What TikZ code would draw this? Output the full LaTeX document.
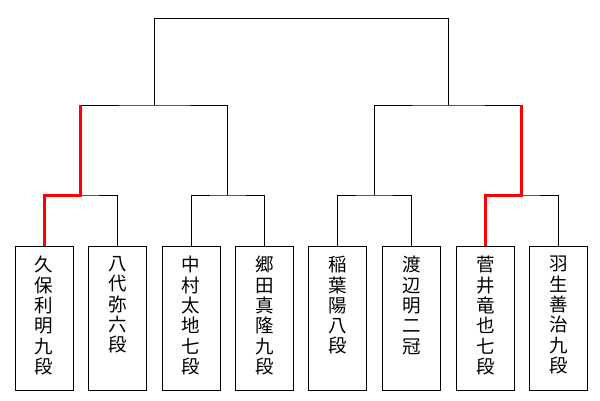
\documentclass[tikz,border=0pt]{standalone}
\usepackage{fontspec}
\newfontfamily\jpfont{Noto Sans CJK JP}
\usetikzlibrary{positioning,calc}

\tikzset{
  player/.style={draw,line width=0.8pt,minimum width=58pt,minimum height=144pt,
    inner sep=0pt,anchor=north,font=\jpfont\fontsize{18.5pt}{20.3pt}\selectfont},
  bracket/.style={line width=0.8pt},
  winner/.style={line width=3pt,red,line join=miter}
}
\newcommand{\tatebox}[1]{\parbox[t][124pt][t]{40pt}{\centering #1}}

\begin{document}
\begin{tikzpicture}[x=1pt,y=-1pt]
\useasboundingbox (0,0) rectangle (600,400);
% players
\node[player] (p1) at (44,246) {\tatebox{久\\保\\利\\明\\九\\段}};
\node[player,right=15pt of p1.north east,anchor=north west] (p2) {\tatebox{八\\代\\弥\\六\\段}};
\node[player,right=14.5pt of p2.north east,anchor=north west] (p3) {\tatebox{中\\村\\太\\地\\七\\段}};
\node[player,right=14.5pt of p3.north east,anchor=north west] (p4) {\tatebox{郷\\田\\真\\隆\\九\\段}};
\node[player,right=14.5pt of p4.north east,anchor=north west] (p5) {\tatebox{稲\\葉\\陽\\八\\段}};
\node[player,right=15pt of p5.north east,anchor=north west] (p6) {\tatebox{渡\\辺\\明\\二\\冠}};
\node[player,right=15pt of p6.north east,anchor=north west] (p7) {\tatebox{菅\\井\\竜\\也\\七\\段}};
\node[player,right=14.5pt of p7.north east,anchor=north west] (p8) {\tatebox{羽\\生\\善\\治\\九\\段}};
% joints
\coordinate (q1) at ($(p1.north)!.5!(p2.north)+(0,-51)$);
\coordinate (q2) at ($(p3.north)!.5!(p4.north)+(0,-51)$);
\coordinate (q3) at ($(p5.north)!.5!(p6.north)+(0,-51)$);
\coordinate (q4) at ($(p7.north)!.5!(p8.north)+(0,-51)$);
\coordinate (r1) at ($(q1)!.5!(q2)+(0,-90)$);
\coordinate (r2) at ($(q3)!.5!(q4)+(0,-90)$);
\coordinate (top) at ($(r1)!.5!(r2)+(0,-86.5)$);
% bracket lines
\draw[bracket] (p1.north) |- (q1) -| (p2.north);
\draw[bracket] (p3.north) |- (q2) -| (p4.north);
\draw[bracket] (p5.north) |- (q3) -| (p6.north);
\draw[bracket] (p7.north) |- (q4) -| (p8.north);
\draw[bracket] (q1) |- (r1) -| (q2);
\draw[bracket] (q3) |- (r2) -| (q4);
\draw[bracket] (r1) |- (top) -| (r2);
% winners
\draw[winner] (p1.north) |- (q1) -- (q1 |- r1);
\draw[winner] (p7.north) |- (q4) -- (q4 |- r2);
\end{tikzpicture}
\end{document}
